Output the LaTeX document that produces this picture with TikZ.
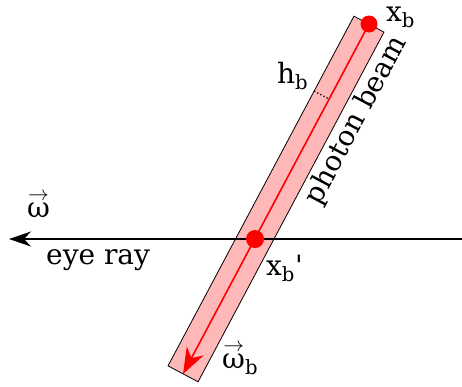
\documentclass[tikz,border=0pt]{standalone}
\usepackage{fontspec}
\setmainfont{DejaVu Serif}
\usetikzlibrary{arrows.meta,calc}

\newcommand{\lo}[1]{\textsubscript{#1}}
\newcommand{\wvec}{$\stackrel{\scriptstyle\rightarrow}{\mbox{ω}}$}

\begin{document}
\begin{tikzpicture}[
  x=1pt, y=-1pt,
  lbl/.style={font=\fontsize{28}{32}\selectfont, inner sep=0pt},
  beam/.style={draw=black, line width=0.8pt, fill=red!28, inner sep=0pt},
  dot/.style={circle, fill=red, inner sep=0pt, minimum size=17pt},
  ray/.style={line width=1.3pt, -{Stealth[length=22pt, width=15pt, inset=7pt]}},
  beamaxis/.style={red, line width=1.6pt, -{Stealth[length=26pt, width=19pt, inset=8pt]}}
]
\useasboundingbox (0,0) rectangle (462,386);
\coordinate (xb) at (369,24);
\coordinate (tip) at (183,374);
\coordinate (rayend) at (462,239);
\coordinate (raytip) at (9,239);
\coordinate (hbaxis) at ($(xb)!85pt!(tip)$);
\coordinate (hbedge) at ($(hbaxis)!17pt!-90:(tip)$);

\node[beam, rotate=62, minimum width=396pt, minimum height=34pt] (photonbeam) at ($(xb)!0.5!(tip)$) {};
\draw[ray] (rayend) -- (raytip);
\draw[beamaxis] (xb) -- (tip);
\draw[line width=1.3pt, dash pattern=on 1.3pt off 2.2pt] (hbedge) -- (hbaxis);
\node[dot] (xbdot) at (xb) {};
\node[dot, minimum size=18pt] (xbprime) at (255,239) {};

% labels
\node[lbl, anchor=base west] (xblabel) at (386,21) {x\lo{b}};
\node[lbl, anchor=base west] (hblabel) at (277,83) {h\lo{b}};
\node[lbl, anchor=mid, rotate=62] (beamlabel) at (361,123) {photon beam};
\node[lbl, anchor=base west] (wlabel) at (27,217) {\wvec};
\node[lbl, anchor=base west] (eyelabel) at (46,264) {eye ray};
\node[lbl, anchor=base west] (xbplabel) at (266,275) {x\lo{b}\textquotesingle};
\node[lbl, anchor=base west] (wblabel) at (222,368) {\wvec\lo{b}};
\end{tikzpicture}
\end{document}
